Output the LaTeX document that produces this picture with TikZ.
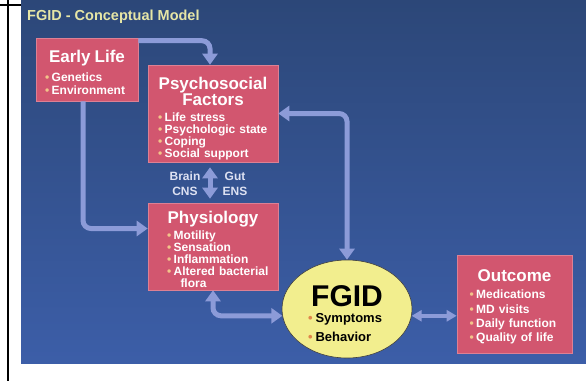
\documentclass[tikz,border=0pt]{standalone}
\usepackage{fontspec}
\setmainfont{Liberation Sans}
\usepackage{tikz}
\usetikzlibrary{arrows.meta,positioning,shapes.geometric,calc}
\definecolor{cSlideTop}{HTML}{2C4778}
\definecolor{cSlideBot}{HTML}{3C5EA8}
\definecolor{cBox}{HTML}{D2566F}
\definecolor{cFlow}{HTML}{8C9BD8}
\definecolor{cCore}{HTML}{F2EE8E}
\definecolor{cHead}{HTML}{E6E6A6}
\definecolor{cLbl}{HTML}{DDE1F2}
\definecolor{cDot}{HTML}{F2C48A}
\definecolor{cCoreDot}{HTML}{E0864A}
\newcommand{\bl}{{\color{cDot}\textbullet}\kern2.5pt}
\newcommand{\cbl}{{\color{cCoreDot}\textbullet}\kern3pt}
\newcommand{\ttl}[1]{\makebox[\linewidth]{\fontsize{17}{17}\selectfont#1}}
\newcommand{\ind}{\hspace*{11pt}}
\tikzset{
  box/.style ={fill=cBox, draw=cBox!75!white, line width=0.6pt, text=white, align=left,
               inner sep=0pt, font=\bfseries\fontsize{12}{12}\selectfont},
  core/.style={ellipse, fill=cCore, draw=black!75, line width=0.6pt, inner sep=0pt,
               minimum width=130pt, minimum height=98pt, text width=78pt, align=left,
               font=\bfseries\fontsize{13}{19}\selectfont},
  head/.style={text=cHead, inner sep=0pt, font=\bfseries\fontsize{14.5}{14.5}\selectfont},
  lbl/.style ={text=cLbl, inner sep=0pt, align=center, font=\bfseries\fontsize{12}{15}\selectfont},
  flow/.style ={-{Triangle[length=11pt,width=15pt]}, line width=5pt, draw=cFlow, rounded corners=8pt},
  flow2/.style={flow, {Triangle[length=11pt,width=15pt]}-{Triangle[length=11pt,width=15pt]}},
  flowsm/.style={{Triangle[length=10pt,width=11pt]}-{Triangle[length=10pt,width=11pt]}, line width=4pt, draw=cFlow},
}
\begin{document}
\begin{tikzpicture}[x=1pt,y=-1pt]
  \useasboundingbox (0,0) rectangle (586,381);
  \fill[top color=cSlideTop, bottom color=cSlideBot] (21,0) rectangle (586,363);
  \draw[line width=2pt] (8,0) -- (8,381);
  \draw[line width=1.2pt] (0,5) -- (21,5);
  \node[head, anchor=west] (title) at (27,16.5) {FGID - Conceptual Model};

  \node[box, minimum width=102pt, minimum height=63pt, text width=84pt] (early) at (87,69.5)
    {\rule{0pt}{18pt}\ttl{Early Life}\\[5pt]\bl Genetics\\[1pt]\bl Environment};
  \node[box, minimum width=130pt, minimum height=97pt, text width=110pt] (psych) at (213,113.5)
    {\rule{0pt}{22pt}\ttl{Psychosocial}\\\ttl{Factors}\\[4pt]\bl Life stress\\\bl Psychologic state\\
     \bl Coping\\\bl Social support};
  \node[box, minimum width=130pt, minimum height=87pt, text width=114pt] (physio) at (213,246.5)
    {\rule{0pt}{18pt}\ttl{Physiology}\\[2pt]\ind\bl Motility\\\ind\bl Sensation\\\ind\bl Inflammation\\
     \ind\bl Altered bacterial\\\ind\hspace*{13.5pt}flora};
  \node[core] (fgid) at (347,309)
    {\rule{0pt}{30pt}\makebox[\linewidth]{\fontsize{30}{30}\selectfont FGID}\\[-3pt]\cbl Symptoms\\\cbl Behavior};
  \node[box, minimum width=115pt, minimum height=98pt, text width=90pt] (outcome) at (514.5,304)
    {\rule{0pt}{18pt}\ttl{Outcome}\\[5pt]\bl Medications\\[2.3pt]\bl MD visits\\[2.3pt]
     \bl Daily function\\[2.3pt]\bl Quality of life};
  \node[lbl] (brain) at (185,184) {Brain\\CNS};
  \node[lbl] (gut) at (235,184) {Gut\\ENS};

  \draw[flow] ([yshift=-3pt]early.north east) -| ([xshift=-3pt]psych.north);
  \draw[flow] ([xshift=-4pt]early.south) |- ([yshift=18pt]physio.west);
  \draw[flow2, shorten <=5pt, shorten >=4pt] ([xshift=-3pt]psych.south) -- ([xshift=-3pt]physio.north);
  \draw[flow2] (fgid.north) |- (psych.east);
  \draw[flow2] (physio.south) |- (fgid.186);
  \draw[flowsm] (fgid.354) -- (fgid.354 -| outcome.west);
\end{tikzpicture}
\end{document}
